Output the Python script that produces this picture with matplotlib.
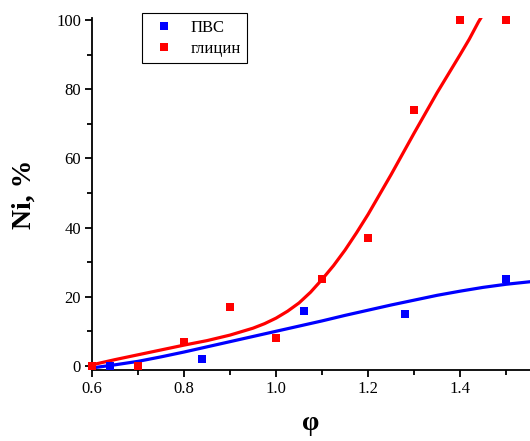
import matplotlib
matplotlib.use('Agg')
import matplotlib.pyplot as plt
from matplotlib.ticker import MultipleLocator


# experimental points
pvs_x = [0.64, 0.84, 1.06, 1.28, 1.50]
pvs_y = [0, 2, 16, 15, 25]

gly_x = [0.60, 0.70, 0.80, 0.90, 1.00, 1.10, 1.20, 1.30, 1.40, 1.50]
gly_y = [0, 0, 7, 17, 8, 25, 37, 74, 100, 100]

# fitted curves
pvs_fit_x = [0.60, 0.65, 0.70, 0.75, 0.80, 0.85, 0.90, 0.95, 1.00, 1.05,
             1.10, 1.15, 1.20, 1.25, 1.30, 1.35, 1.40, 1.45, 1.50, 1.55]
pvs_fit_y = [-0.6, 0.3, 1.3, 2.6, 4.0, 5.5, 7.0, 8.5, 10.0, 11.5,
             13.0, 14.6, 16.1, 17.6, 19.0, 20.4, 21.6, 22.7, 23.6, 24.3]

gly_fit_x = [0.60, 0.65, 0.70, 0.75, 0.80, 0.85, 0.90, 0.95, 0.975, 1.00,
             1.025, 1.05, 1.075, 1.10, 1.125, 1.15, 1.175, 1.20, 1.25, 1.30,
             1.35, 1.375, 1.40, 1.42, 1.44, 1.47]
gly_fit_y = [0.3, 1.8, 3.2, 4.6, 6.0, 7.3, 8.9, 10.9, 12.2, 13.8,
             15.8, 18.2, 21.3, 25.0, 29.0, 33.5, 38.5, 43.8, 55.3, 67.3,
             79.0, 84.5, 90.0, 94.5, 99.5, 106.0]

legend_labels = ['ПВС', 'глицин']


def plot():
    plt.rcParams['font.family'] = ['Liberation Serif', 'DejaVu Serif']
    fig = plt.figure(figsize=(5.3, 4.41), dpi=100)
    ax = fig.add_axes([0.1736, 0.161, 0.8264, 0.798])

    ax.plot(pvs_fit_x, pvs_fit_y, color='#0000ff', lw=2.3, zorder=2)
    ax.plot(gly_fit_x, gly_fit_y, color='#ff0000', lw=2.3, zorder=2)
    ax.plot(pvs_x, pvs_y, 's', color='#0000ff', ms=6, mew=0,
            label=legend_labels[0], clip_on=False, zorder=3)
    ax.plot(gly_x, gly_y, 's', color='#ff0000', ms=6, mew=0,
            label=legend_labels[1], clip_on=False, zorder=3)

    ax.set_xlim(0.6, 1.552)
    ax.set_ylim(-1.2, 100.6)

    ax.spines['top'].set_visible(False)
    ax.spines['right'].set_visible(False)
    for s in ['left', 'bottom']:
        ax.spines[s].set_linewidth(1.3)

    ax.xaxis.set_major_locator(MultipleLocator(0.2))
    ax.xaxis.set_minor_locator(MultipleLocator(0.1))
    ax.yaxis.set_major_locator(MultipleLocator(20))
    ax.yaxis.set_minor_locator(MultipleLocator(10))
    ax.set_xticks([0.6, 0.8, 1.0, 1.2, 1.4])
    ax.set_xticklabels(['0.6', '0.8', '1.0', '1.2', '1.4'])
    ax.tick_params(which='major', direction='out', length=5, width=1.3,
                   labelsize=12, pad=3)
    ax.tick_params(which='minor', direction='out', length=3.5, width=1.3)

    ax.set_xlabel('φ', fontsize=20, fontweight='bold', labelpad=10)
    ax.set_ylabel('Ni, %', fontsize=20, fontweight='bold', labelpad=14)

    leg = ax.legend(loc='upper left', bbox_to_anchor=(0.114, 1.014),
                    borderaxespad=0,
                    fontsize=12, fancybox=False, framealpha=1,
                    edgecolor='black', handlelength=1.8,
                    handletextpad=0.7, borderpad=0.4, labelspacing=0.3)
    leg.get_frame().set_linewidth(0.8)

    fig.savefig('out.png', dpi=100)


def main():
    plot()


if __name__ == "__main__":
    main()
